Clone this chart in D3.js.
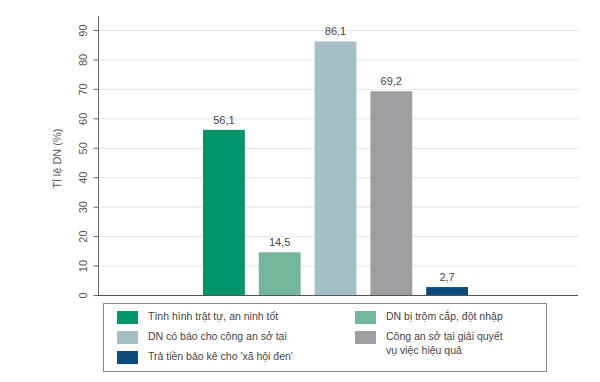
<!DOCTYPE html>
<html><head><meta charset="utf-8">
<script src="https://cdn.jsdelivr.net/npm/d3@7"></script>
<style>body{margin:0;background:#fff;}svg{display:block;font-family:"Liberation Sans",Arial,sans-serif;}</style>
</head><body><svg id="c" width="600" height="382"></svg>
<script>
const series = ["Tình hình trật tự, an ninh tốt","DN bị trộm cắp, đột nhập","DN có báo cho công an sở tại","Công an sở tại giải quyết vụ việc hiệu quả","Trả tiền bảo kê cho 'xã hội đen'"];
const values = [56.1, 14.5, 86.1, 69.2, 2.7];
const labels = ["56,1","14,5","86,1","69,2","2,7"];
const colors = ["#00956b","#72b79b","#a4bfc5","#9d9ea1","#0d4b7d"];
const yTicks = [0,10,20,30,40,50,60,70,80,90];
const yTitle = "Tỉ lệ DN (%)";
const legendRows = [
  [0, "Tình hình trật tự, an ninh tốt", 0, 0],
  [1, "DN bị trộm cắp, đột nhập", 1, 0],
  [2, "DN có báo cho công an sở tại", 0, 1],
  [3, "Công an sở tại giải quyết|vụ việc hiệu quả", 1, 1],
  [4, "Trả tiền bảo kê cho 'xã hội đen'", 0, 2]
];

const svg = d3.select("#c");
const x0 = 98, x1 = 578, yTop = 16, yBase = 295;
const y = d3.scaleLinear().domain([0,90]).range([yBase, 30]);
const x = d3.scaleBand().domain(d3.range(series.length)).range([196,475]).paddingInner(0.25).paddingOuter(0.125);

// gridlines
svg.append("g").selectAll("line").data(yTicks.filter(d=>d>0)).join("line")
  .attr("x1", x0+1).attr("x2", x1).attr("y1", d=>y(d)+0.5).attr("y2", d=>y(d)+0.5)
  .attr("stroke", "#e3e3e3").attr("stroke-width", 1);

// y axis
const yAxis = svg.append("g").attr("transform", `translate(${x0+0.5},0)`)
  .call(d3.axisLeft(y).tickValues(yTicks).tickSize(5).tickPadding(4).tickFormat(d3.format("d")));
yAxis.select(".domain").remove();
yAxis.selectAll(".tick line").attr("stroke", "#666");
yAxis.selectAll(".tick text").attr("fill","#555").attr("font-size", 11)
  .attr("transform", "rotate(-90)").attr("x", 0).attr("y", -15).attr("dy", "0.35em").attr("text-anchor","middle")
  .attr("font-family", '"Liberation Sans",Arial,sans-serif');
svg.append("line").attr("x1", x0+0.5).attr("x2", x0+0.5).attr("y1", yTop).attr("y2", yBase)
  .attr("stroke", "#666").attr("stroke-width", 1);

// bars
svg.append("g").selectAll("rect").data(values).join("rect")
  .attr("x", (d,i)=>x(i)).attr("width", x.bandwidth())
  .attr("y", d=>y(d)).attr("height", d=>yBase - y(d))
  .attr("fill", (d,i)=>colors[i]);

// baseline
svg.append("line").attr("x1", x0).attr("x2", x1).attr("y1", yBase+0.5).attr("y2", yBase+0.5)
  .attr("stroke", "#555").attr("stroke-width", 1);

// value labels
svg.append("g").selectAll("text").data(values).join("text")
  .attr("x", (d,i)=>x(i)+x.bandwidth()/2).attr("y", d=>y(d)-6)
  .attr("text-anchor","middle").attr("font-size", 11).attr("fill","#444")
  .text((d,i)=>labels[i]);

// y title
svg.append("text").attr("transform", `translate(61,${(yTop+yBase)/2 + 3}) rotate(-90)`)
  .attr("text-anchor","middle").attr("font-size", 11).attr("fill","#555").text(yTitle);

// legend
svg.append("rect").attr("x", 103.5).attr("y", 303.5).attr("width", 443).attr("height", 68)
  .attr("fill","none").attr("stroke","#888").attr("stroke-width",1);
const colX = [117, 355], rowY = [311, 331, 351];
const lg = svg.append("g").selectAll("g").data(legendRows).join("g")
  .attr("transform", d=>`translate(${colX[d[2]]},${rowY[d[3]]})`);
lg.append("rect").attr("width", 21).attr("height", 13).attr("fill", d=>colors[d[0]]);
lg.append("text").attr("x", 31).attr("y", 9).attr("font-size", 10.5).attr("fill","#444")
  .selectAll("tspan").data(d=>d[1].split("|")).join("tspan")
  .attr("x", 31).attr("dy", (t,i)=>i===0?0:14).text(t=>t);
</script></body></html>
